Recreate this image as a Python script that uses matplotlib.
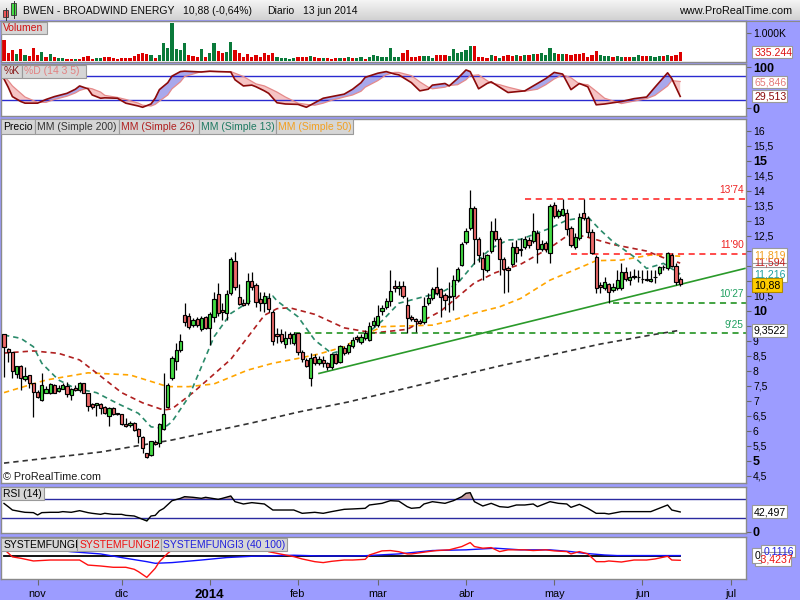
import numpy as np
import matplotlib
matplotlib.use("Agg")
import matplotlib.pyplot as plt
from matplotlib.patches import Rectangle
from matplotlib.colors import LinearSegmentedColormap
from matplotlib.transforms import blended_transform_factory

plt.rcParams['font.family'] = ['Liberation Sans', 'DejaVu Sans']

# ------------------------------------------------------------------ data
opens = [9.21,8.72,8.61,7.88,8.15,7.71,7.85,7.58,7.30,7.01,
         7.27,7.25,7.51,7.32,7.40,7.50,7.18,7.41,7.36,7.58,
         7.25,6.89,6.85,6.89,6.80,6.50,6.77,6.58,6.55,6.21,
         6.19,6.26,6.07,5.78,5.25,5.18,5.62,5.58,6.05,6.78,
         7.75,8.33,8.68,9.85,9.81,9.51,9.71,9.38,9.78,9.41,
         9.78,10.55,10.02,9.91,10.58,11.67,10.45,10.25,10.25,10.98,
         10.85,10.39,10.27,10.43,9.95,9.21,9.22,8.88,9.22,8.91,
         9.25,8.63,8.36,7.75,8.45,8.25,8.36,8.25,8.11,8.56,
         8.30,8.75,8.62,8.82,9.11,8.96,9.09,9.02,9.51,9.51,
         9.98,10.13,10.31,10.81,10.75,10.81,10.18,9.80,9.71,9.65,
         9.61,10.25,10.41,10.78,10.72,10.51,10.49,10.49,11.02,11.52,
         12.28,12.75,13.41,12.38,11.75,11.36,11.99,12.67,12.38,11.71,
         11.41,11.56,12.13,12.04,12.11,12.36,12.32,12.60,12.05,12.25,
         11.91,13.52,13.16,13.19,13.27,12.75,12.11,12.41,13.25,13.08,
         12.63,11.80,10.86,10.75,10.88,10.69,10.75,10.75,11.30,11.02,
         11.15,11.14,11.07,11.05,10.99,11.14,11.25,11.45,11.41,11.86,
         11.49,11.05]
highs = [9.22,8.77,8.62,8.16,8.18,8.13,7.87,7.59,7.36,7.91,
         7.49,7.59,7.56,7.52,7.59,7.63,7.42,7.52,7.63,7.60,
         7.26,6.92,6.93,6.91,6.83,6.79,6.79,6.59,6.57,6.42,
         6.32,6.29,6.09,5.82,5.26,5.66,5.69,6.26,7.91,7.59,
         8.49,8.91,9.21,10.25,9.92,9.76,9.79,9.82,9.82,9.96,
         10.63,10.91,10.26,10.69,11.80,11.96,10.89,10.39,11.27,11.29,
         10.92,10.63,10.63,10.58,10.02,9.41,9.38,9.32,9.29,9.29,
         9.26,8.69,8.42,8.58,8.56,8.49,8.49,8.29,8.59,8.59,
         8.86,8.82,8.92,9.12,9.19,9.22,9.36,9.62,9.79,10.18,
         10.19,10.42,11.36,11.01,11.00,11.00,10.47,9.86,9.76,9.72,
         10.47,10.58,10.79,11.47,10.76,10.59,10.97,11.19,11.46,12.30,
         12.75,14.02,13.49,12.46,11.97,11.89,12.98,13.08,12.46,11.79,
         11.49,12.30,12.36,12.41,12.49,12.46,13.27,12.69,12.36,12.32,
         13.56,13.63,13.39,13.71,13.39,12.82,12.58,13.25,13.72,13.16,
         12.72,11.86,10.97,11.13,10.92,10.93,11.36,11.58,11.47,11.33,
         11.38,11.36,11.36,11.36,11.36,11.36,11.49,11.52,11.97,11.92,
         11.59,11.12]
lows = [7.79,8.30,7.75,7.76,7.36,7.66,7.42,6.47,7.09,7.00,
        7.26,7.22,7.26,7.29,7.39,7.13,7.02,7.32,7.30,7.26,
        6.67,6.72,6.49,6.55,6.57,6.17,6.52,6.52,6.19,6.12,
        6.12,6.00,5.58,5.25,5.09,5.16,5.52,5.47,6.02,6.76,
        7.69,8.02,8.62,9.49,9.39,9.46,9.46,9.32,9.39,8.86,
        9.63,9.82,9.69,9.69,10.52,10.69,10.19,10.16,10.19,10.69,
        10.11,9.99,9.97,9.96,8.86,8.91,8.92,8.76,8.89,8.86,
        8.52,8.29,8.11,7.50,8.19,8.19,8.12,8.02,8.06,8.22,
        8.26,8.52,8.56,8.76,8.96,8.89,9.02,8.99,9.46,9.46,
        9.86,10.06,10.16,10.62,10.52,10.42,9.25,9.66,9.30,9.56,
        9.56,10.19,10.36,10.52,9.80,10.02,9.97,10.02,10.96,11.49,
        12.22,12.69,11.56,11.62,11.02,11.29,11.92,12.32,11.19,10.59,
        10.61,11.49,11.62,11.82,12.06,12.09,12.26,11.60,11.99,11.96,
        11.60,13.09,13.09,13.16,12.52,12.13,12.06,12.36,13.02,12.47,
        11.89,10.59,10.60,10.69,10.27,10.62,10.69,10.69,10.99,10.86,
        11.05,10.97,10.91,10.99,10.96,10.91,11.19,11.36,11.36,11.46,
        10.86,10.83]
closes = [8.78,8.61,7.99,8.15,7.75,7.82,7.58,7.28,7.11,7.51,
          7.40,7.55,7.27,7.43,7.51,7.23,7.40,7.36,7.58,7.27,
          6.83,6.80,6.91,6.77,6.58,6.75,6.55,6.56,6.21,6.16,
          6.26,6.03,5.82,5.41,5.11,5.65,5.56,6.22,6.56,7.51,
          8.42,8.69,8.99,9.61,9.46,9.69,9.51,9.77,9.41,9.88,
          10.38,9.91,9.95,10.55,11.71,10.78,10.22,10.19,11.00,10.78,
          10.30,10.25,10.48,10.05,8.98,9.16,8.99,9.10,9.08,9.22,
          8.61,8.38,8.16,8.41,8.25,8.39,8.26,8.13,8.56,8.25,
          8.82,8.58,8.86,9.02,9.05,9.12,9.26,9.49,9.66,9.82,
          10.09,10.31,10.65,10.75,10.81,10.48,9.76,9.71,9.67,9.58,
          10.16,10.42,10.73,10.58,10.45,10.36,10.45,11.02,11.38,12.22,
          12.65,13.43,12.38,11.86,11.38,11.85,12.65,12.38,11.71,11.38,
          11.36,12.13,11.91,12.05,12.38,12.19,12.66,12.05,12.22,12.05,
          13.49,13.16,13.33,13.38,12.71,12.19,12.47,13.11,13.08,12.63,
          11.91,10.75,10.80,10.97,10.63,10.78,11.02,11.30,11.05,11.11,
          11.13,11.11,11.06,11.04,11.06,11.13,11.45,11.46,11.91,11.49,
          10.95,10.88]
volumes_k = [758,277,397,241,421,217,180,457,217,313,
             156,253,132,108,108,72,72,84,84,156,
             180,84,108,108,144,144,108,72,108,108,
             108,180,241,277,241,217,108,217,638,457,
             1384,433,397,662,217,180,156,433,132,277,
             662,373,277,313,686,397,277,156,253,156,
             205,132,277,217,301,156,108,96,84,108,
             156,132,156,180,132,108,108,108,84,108,
             108,108,156,108,108,156,84,156,205,180,
             132,156,481,156,156,277,397,156,156,180,
             180,180,108,217,217,217,180,433,277,337,
             397,542,542,156,156,120,205,180,108,180,
             217,180,217,180,217,205,241,241,301,217,
             481,277,241,241,241,217,241,241,301,156,
             217,373,217,180,180,156,180,132,156,156,
             132,217,180,180,180,156,180,180,229,180,
             217,337]
vol_colors = ("rrrgrgrrrg" "rgrggrrgrr" "rrggrrrrrr" "rrrrrgrggg" "ggggrrrgrg"
              "grrggrrrrr" "rrrrrggggg" "rrrgrrgrrr" "grgrggrggg" "ggggg"
              "rrrrrgggrr" "rggggggrrr" "rgrgrrrgrg" "rgrggggrgr" "rrrrrrrggg"
              "rggrrggrrg" "ggrgrrr")

sma200_idx = [0, 23, 40, 59, 70, 82, 94, 106, 118, 130, 142, 154, 161]
sma200_val = [4.92, 5.29, 5.69, 6.26, 6.62, 6.96, 7.36, 7.76, 8.16, 8.52, 8.89, 9.19, 9.35]
sma50_idx = [0, 10, 20, 30, 39, 44, 50, 58, 64, 70, 75, 81, 85, 90, 102, 107, 112, 118,
             123, 130, 138, 141, 147, 154, 161]
sma50_val = [7.27, 7.69, 7.93, 7.86, 7.47, 7.47, 7.56, 8.02, 8.25, 8.41, 8.56, 8.80, 9.13,
             9.47, 9.52, 9.69, 9.92, 10.13, 10.41, 11.02, 11.49, 11.67, 11.69, 11.86, 11.82]
sma26_idx = [0, 7, 13, 18, 23, 28, 33, 38, 40, 45, 54, 62, 65, 68, 74, 81, 88, 96, 104, 112,
             117, 123, 130, 134, 138, 145, 153, 157, 161]
sma26_val = [8.59, 8.66, 8.58, 8.36, 7.82, 7.27, 6.93, 6.69, 6.73, 7.27, 8.38, 9.85, 10.07,
             10.10, 9.88, 9.43, 9.26, 9.38, 9.99, 10.93, 11.27, 11.55, 12.10, 12.49, 12.49,
             12.21, 11.99, 11.77, 11.59]
sma13_idx = [0, 4, 7, 9, 13, 17, 22, 27, 32, 35, 38, 40, 44, 50, 54, 59, 64, 65, 70, 74, 78,
             81, 85, 90, 94, 100, 104, 108, 112, 116, 120, 123, 130, 134, 139, 142, 145, 150,
             153, 157, 161]
sma13_val = [9.19, 9.08, 8.80, 8.25, 7.69, 7.41, 7.27, 6.91, 6.58, 6.13, 6.08, 6.30, 7.13,
             9.13, 9.91, 10.36, 10.49, 10.33, 9.80, 9.02, 8.58, 8.69, 9.06, 9.66, 10.25,
             10.47, 10.60, 10.91, 11.58, 12.08, 12.36, 12.38, 12.75, 13.02, 13.13, 12.69,
             12.30, 11.80, 11.41, 11.58, 11.22]

levels = [13.74, 11.90, 10.27, 9.25]
level_start = [124, 135, 145, 69]
level_labels = ["13'74", "11'90", "10'27", "9'25"]
trend_idx = [75, 176.4]
trend_val = [7.91, 11.41]

stoch_idx = [0, 1, 2, 4, 5, 8, 10, 12, 15, 17, 18, 20, 21, 23, 24, 27, 29, 32, 33, 35, 36, 37,
             39, 40, 42, 43, 47, 49, 51, 54, 55, 57, 59, 60, 62, 63, 65, 67, 70, 72, 74, 76,
             78, 81, 83, 85, 86, 89, 91, 93, 94, 97, 99, 101, 102, 105, 106, 108, 110, 111,
             113, 115, 116, 118, 120, 124, 127, 129, 131, 133, 135, 137, 139, 141, 143, 147,
             150, 153, 155, 158, 159, 161]
stoch_k = [72, 52, 29, 17, 13, 13, 22, 29, 37, 47, 55, 48, 33, 25, 26, 25, 13, 6, 3, 11, 25,
           46, 63, 79, 90, 91, 89, 91, 90, 89, 70, 55, 57, 53, 43, 37, 14, 11, 10, 3, 14, 25,
           29, 35, 47, 63, 76, 86, 90, 84, 82, 63, 43, 47, 57, 61, 55, 73, 94, 90, 48, 61, 65,
           52, 39, 43, 61, 73, 88, 84, 46, 61, 53, 9, 11, 17, 24, 28, 52, 87, 73, 29.513]
stoch_d = [78, 68, 55, 37, 28, 15, 15, 22, 30, 38, 44, 50, 48, 40, 32, 27, 22, 13, 8, 6, 10,
           18, 33, 48, 65, 78, 90, 90, 90, 90, 86, 78, 66, 60, 55, 50, 40, 28, 13, 10, 8, 13,
           20, 28, 33, 42, 52, 68, 82, 88, 88, 80, 65, 52, 48, 52, 56, 58, 70, 80, 82, 68, 62,
           58, 52, 42, 47, 58, 72, 82, 75, 60, 58, 42, 25, 12, 18, 24, 32, 55, 68, 65.846]

rsi_idx = [0, 1, 2, 4, 5, 7, 8, 9, 11, 13, 14, 16, 18, 20, 21, 23, 24, 26, 28, 29, 31, 32, 34,
           35, 36, 37, 38, 40, 42, 43, 45, 47, 48, 51, 52, 54, 55, 57, 59, 62, 64, 66, 69, 71,
           74, 76, 78, 81, 83, 86, 87, 90, 92, 94, 96, 97, 99, 100, 102, 105, 107, 109, 110,
           111, 112, 114, 116, 118, 120, 122, 124, 126, 127, 130, 132, 134, 135, 137, 139,
           141, 143, 144, 147, 149, 151, 154, 156, 158, 159, 161]
rsi_val = [61, 54, 46.7, 43.2, 41.7, 41, 35.9, 41, 41.7, 41.7, 43.2, 41.7, 45.3, 41, 39.5,
           37.3, 39.5, 37.3, 37.3, 35.1, 33.7, 30.1, 22.9, 33.7, 35, 45, 50, 66.9, 72, 75.7,
           74.3, 72.1, 74.3, 69.9, 72.1, 77.2, 64.8, 59.8, 62.7, 59.8, 46.7, 46.7, 46.7, 39.5,
           41.7, 39.5, 43.2, 48.2, 49, 50.4, 57.6, 61.2, 67, 66, 54, 50.4, 52, 59.8, 64.8,
           61.2, 67, 75.7, 83, 84.4, 64.8, 55.4, 61.2, 54, 52.5, 57.6, 57.6, 59.8, 54, 64.8,
           61.2, 59.8, 52.5, 59, 50.4, 39.5, 39.5, 38, 43.2, 43.2, 43.2, 43.2, 50.4, 57.6,
           46.7, 42.497]

fungi1_idx = [0, 161]
fungi1_val = [0, 0]
fungi2_idx = [0, 2, 4, 7, 11, 15, 18, 20, 23, 26, 29, 31, 32, 34, 36, 37, 39, 41, 50, 62, 63,
              69, 71, 74, 76, 78, 81, 83, 86, 87, 90, 92, 94, 96, 97, 101, 103, 106, 109, 111,
              112, 114, 116, 118, 120, 124, 126, 129, 131, 134, 135, 137, 139, 141, 143, 144,
              147, 150, 153, 155, 158, 159, 161]
fungi2_val = [6, -0.5, -1.7, -4.0, -3.2, -3.2, -3.2, -7.5, -8.3, -9.4, -9.4, -11.1, -13.1,
              -18.0, -10.3, -4.6, 2.6, 8, 12, 8, 3.9, -0.3, -2.3, -4.6, -5.4, -4.3, -3.2,
              -3.2, -2.6, 1.1, 4.6, 4.9, 3.9, 2.0, 2.0, 4.0, 4.9, 5.5, 8.3, 11.7, 8.3, 6.9,
              7.4, 4.0, 5.5, 5.5, 4.9, 5.5, 4.6, 4.0, 2.0, 4.0, 2.0, -4.6, -4.6, -4.0, -4.9,
              -3.2, -3.2, -2.3, 0, -3.2, -3.4237]
fungi3_idx = [0, 10, 16, 23, 29, 34, 36, 40, 47, 53, 59, 69, 75, 82, 86, 94, 97, 102, 110,
              117, 123, 130, 135, 138, 143, 146, 150, 161]
fungi3_val = [9, 6.5, 3.9, 2.0, -1.7, -4.6, -6.0, -5.4, -3.2, -1.1, 0, 0.9, 0.3, 0.2, 0.5,
              2.0, 3.1, 4.9, 5.5, 6.9, 5.5, 5.5, 4.0, 2.6, 1.1, 0.6, 0.6, 0.6]

month_idx = [8, 28, 49, 70, 89, 110, 131, 152, 173]
month_labels = ['nov', 'dic', '2014', 'feb', 'mar', 'abr', 'may', 'jun', 'jul']

# price-scale labels that stay visible (9,5 / 11 / 11,5 / 12 sit under the value boxes)
price_ticks = [4.5, 5, 5.5, 6, 6.5, 7, 7.5, 8, 8.5, 9, 10, 10.5, 12.5, 13,
               13.5, 14, 14.5, 15, 15.5, 16]
price_tick_labels = ['4,5', '5', '5,5', '6', '6,5', '7', '7,5', '8', '8,5', '9', '10',
                     '10,5', '12,5', '13', '13,5', '14', '14,5', '15', '15,5', '16']
hidden_ticks = [9.5, 11, 11.5, 12]
bold_tick_labels = ['5', '10', '15']

# ------------------------------------------------------------------ layout
W, H = 800, 600
LAV = '#9c9cff'
fig = plt.figure(figsize=(8, 6), dpi=100, facecolor=LAV)


def frac(l, t, r, b):
    return [l / W, 1 - b / H, (r - l) / W, (b - t) / H]


X0, DX = 4.0, 4.2
XLIM = ((0.5 - X0) / DX, (746 - X0) / DX)
n = len(closes)
idx = np.arange(n)


def panel(t, b, ylim):
    ax = fig.add_axes(frac(0.5, t, 746, b))
    ax.set_facecolor('white')
    ax.set_xlim(*XLIM)
    ax.set_ylim(*ylim)
    for s in ax.spines.values():
        s.set_color('#8a8a8a')
        s.set_linewidth(1.0)
    ax.tick_params(axis='x', bottom=False, labelbottom=False)
    ax.yaxis.tick_right()
    ax.tick_params(axis='y', direction='out', length=3.5, width=0.8, color='#6a6a6a',
                   pad=1.5, labelsize=7.5, labelcolor='black')
    return ax


# ---- volume
ax_v = panel(21, 61.5, (-15, 1450))
cmap_v = {'r': '#dd0000', 'g': '#0a7a3a'}
ax_v.bar(idx, volumes_k, width=0.75, color=[cmap_v[c] for c in vol_colors], zorder=2)
ax_v.set_yticks([1000])
ax_v.set_yticklabels(['1.000K'])

# ---- stochastic
ax_s = panel(64, 116, (-18.3, 108.5))
k = np.array(stoch_k, float)
d = np.array(stoch_d, float)
ax_s.fill_between(stoch_idx, k, d, where=k >= d, interpolate=True, color='#a8a8ec', lw=0, zorder=1)
ax_s.fill_between(stoch_idx, k, d, where=k < d, interpolate=True, color='#f6c4c4', lw=0, zorder=1)
ax_s.axhline(80, color='#2a2ad0', lw=1.0, zorder=2)
ax_s.axhline(20, color='#2a2ad0', lw=1.0, zorder=2)
ax_s.plot(stoch_idx, d, color='#e58a8a', lw=0.9, zorder=3)
ax_s.plot(stoch_idx, k, color='#8b0a0a', lw=1.2, zorder=4)
ax_s.set_yticks([0, 100])
ax_s.set_yticklabels(['0', '100'], fontsize=9, fontweight='bold')

# ---- price
ax_p = panel(118.5, 483, (4.257, 16.41))
ax_p.set_yticks(price_ticks)
ax_p.set_yticklabels(price_tick_labels)
ax_p.set_yticks(hidden_ticks, minor=True)
ax_p.tick_params(axis='y', which='minor', right=True, direction='out', length=3.5, width=0.8,
                 color='#6a6a6a')
for lab in ax_p.get_yticklabels():
    if lab.get_text() in bold_tick_labels:
        lab.set_fontweight('bold')
        lab.set_fontsize(9)

ma_dash = (0, (3.2, 2.4))
ax_p.plot(sma200_idx, sma200_val, color='#333333', lw=1.2, ls=ma_dash, zorder=2)
ax_p.plot(sma50_idx, sma50_val, color='#ffa500', lw=1.2, ls=ma_dash, zorder=2)
ax_p.plot(sma26_idx, sma26_val, color='#b02020', lw=1.2, ls=ma_dash, zorder=2)
ax_p.plot(sma13_idx, sma13_val, color='#2a8a6a', lw=1.2, ls=ma_dash, zorder=2)

lvl_colors = ['#ff1a1a', '#ff1a1a', '#108a10', '#108a10']
lbl_colors = ['#ee2222', '#ee2222', '#20a060', '#20a060']
tr = blended_transform_factory(ax_p.transAxes, ax_p.transData)
for lv, st, lb, lc, tc in zip(levels, level_start, level_labels, lvl_colors, lbl_colors):
    ax_p.hlines(lv, st, XLIM[1], colors=lc, lw=1.1, linestyles=(0, (4, 3)), zorder=2)
    ax_p.text(0.997, lv + 0.11, lb, transform=tr, ha='right', va='bottom', fontsize=7.3,
              color=tc, zorder=6)
ax_p.plot(trend_idx, trend_val, color='#2a9a2a', lw=1.2, zorder=2)

for i in range(n):
    o, h, l, c = opens[i], highs[i], lows[i], closes[i]
    ax_p.vlines(i, l, h, color='black', lw=0.9, zorder=4)
    up = c >= o
    lo = min(o, c)
    bh = max(abs(c - o), 0.012)
    ax_p.add_patch(Rectangle((i - 0.38, lo), 0.76, bh, facecolor='#44dd44' if up else '#ee6a6a',
                             edgecolor='black', lw=0.85, zorder=5))
ax_p.text(2.5 / 745, 6.3 / 364.5, '\u00a9 ProRealTime.com', transform=ax_p.transAxes,
          fontsize=7.8, color='#1a1a1a', ha='left', va='center', zorder=6)

# ---- RSI
ax_r = panel(487, 533.3, (-3.9, 96.7))
rv = np.array(rsi_val, float)
ax_r.fill_between(rsi_idx, rv, 70, where=rv > 70, interpolate=True, color='#c8a0a0', lw=0, zorder=1)
ax_r.fill_between(rsi_idx, rv, 30, where=rv < 30, interpolate=True, color='#8fd08f', lw=0, zorder=1)
ax_r.axhline(70, color='#2a2aa0', lw=1.0, zorder=2)
ax_r.axhline(30, color='#2a2aa0', lw=1.0, zorder=2)
ax_r.plot(rsi_idx, rv, color='black', lw=1.0, zorder=3)
ax_r.set_yticks([0])
ax_r.set_yticklabels(['0'], fontsize=9, fontweight='bold')

# ---- SYSTEMFUNGI
ax_f = panel(537.3, 579, (-19.4, 16.2))
ax_f.plot(fungi1_idx, fungi1_val, color='black', lw=1.3, zorder=3)
ax_f.plot(fungi3_idx, fungi3_val, color='#1010ff', lw=1.0, zorder=4)
ax_f.plot(fungi2_idx, fungi2_val, color='#ff1010', lw=1.0, zorder=5)
ax_f.set_yticks([])
ax_f.set_xticks(month_idx)
ax_f.set_xticklabels(month_labels)
ax_f.tick_params(axis='x', bottom=True, labelbottom=True, direction='out', length=4,
                 width=0.8, color='#6a6a6a', pad=3, labelsize=7.8)
for lab in ax_f.get_xticklabels():
    if lab.get_text() == '2014':
        lab.set_fontweight('bold')
        lab.set_fontsize(9.5)

# ------------------------------------------------------------------ overlay
ov = fig.add_axes([0, 0, 1, 1], zorder=10)
ov.patch.set_visible(False)
ov.axis('off')
grad = LinearSegmentedColormap.from_list('hdr', ['#f6f6f6', '#d2d2d2'])
ov.imshow(np.linspace(0, 1, 32)[:, None], extent=(0, 800, 20.5, 0), cmap=grad,
          aspect='auto', zorder=0)
ov.set_xlim(0, 800)
ov.set_ylim(600, 0)
ov.plot([0, 800], [20.5, 20.5], color='#8a8a8a', lw=0.8)

# header icon
ov.plot([5.7, 5.7], [8, 20], color='#333', lw=0.7)
ov.add_patch(Rectangle((3.3, 10), 4.8, 7.3, facecolor='#ee5555', edgecolor='#333', lw=0.6))
ov.plot([13.5, 13.5], [1, 18], color='#333', lw=0.7)
ov.add_patch(Rectangle((11, 3.3), 5, 11.7, facecolor='#44dd44', edgecolor='#333', lw=0.6))

hdr_kw = dict(fontsize=7.5, color='#0a0a0a', va='center', ha='left')
ov.text(23, 11.5, 'BWEN - BROADWIND ENERGY', **hdr_kw)
ov.text(183.3, 11.5, '10,88 (-0,64%)', **hdr_kw)
ov.text(267.3, 11.5, 'Diario', **hdr_kw)
ov.text(303.3, 11.5, '13 jun 2014', **hdr_kw)
ov.text(792, 11.5, 'www.ProRealTime.com', fontsize=7.8, color='#0a0a0a', va='center', ha='right')


def tag(x0, y0, x1, y1, txt, tc, fc='#d6d6d6', ec='#9a9a9a', fs=7.5, weight='normal'):
    ov.add_patch(Rectangle((x0, y0), x1 - x0, y1 - y0, facecolor=fc, edgecolor=ec, lw=0.8))
    ov.text(x0 + 2.2, (y0 + y1) / 2 + 0.5, txt, color=tc, fontsize=fs, va='center',
            ha='left', fontweight=weight)


# panel titles
tag(1, 21.5, 47, 33.5, 'Volumen', '#d01010')
tag(1, 64.5, 22, 77.5, '%K', '#8b1a1a')
tag(22, 64.5, 85.5, 77.5, '%D (14 3 5)', '#e38080')
tag(1, 119, 35, 134, 'Precio', 'black')
tag(35, 119, 119, 134, 'MM (Simple 200)', '#333333')
tag(119, 119, 199, 134, 'MM (Simple 26)', '#b02020')
tag(199, 119, 276, 134, 'MM (Simple 13)', '#1f7a62')
tag(276, 119, 353, 134, 'MM (Simple 50)', '#f2a020')
tag(1, 487, 44, 500, 'RSI (14)', 'black')
tag(1, 537.5, 77, 551, 'SYSTEMFUNGI', 'black')
tag(77, 537.5, 161, 551, 'SYSTEMFUNGI2', '#ee1111')
tag(161, 537.5, 287, 551, 'SYSTEMFUNGI3 (40 100)', '#2020dd')

# right-hand value boxes
WB = dict(fc='white', ec='#9a9a9a', fs=7.6)
tag(752, 45.7, 792, 58.3, '335.244', '#dd1010', **WB)
tag(752, 76, 787, 87.5, '65,846', '#e57a7a', **WB)
tag(752, 89.5, 787, 101.7, '29,513', '#8b0a0a', **WB)
tag(751.7, 256, 787, 268, '11,594', '#c02020', **WB)
tag(751.7, 248.3, 786.7, 262.7, '11,819', '#f2a020', **WB)
tag(751.7, 266.7, 787, 281.7, '11,216', '#20a0a0', **WB)
tag(751.7, 277.7, 781.7, 291.7, '10,88', 'black', fc='#ffcc00', ec='#b08a00', fs=7.6)
tag(751.7, 324, 787.3, 336.7, '9,3522', 'black', **WB)
tag(752, 505, 787, 518.3, '42,497', 'black', **WB)
tag(761, 545, 795, 557, '0,1116', '#2020dd', **WB)
tag(755, 552, 791, 566, '-3,4237', '#ee1111', **WB)
tag(752.3, 548.3, 760.7, 563.3, '0', 'black', **WB)

fig.savefig('out.png', dpi=100, facecolor=LAV)
